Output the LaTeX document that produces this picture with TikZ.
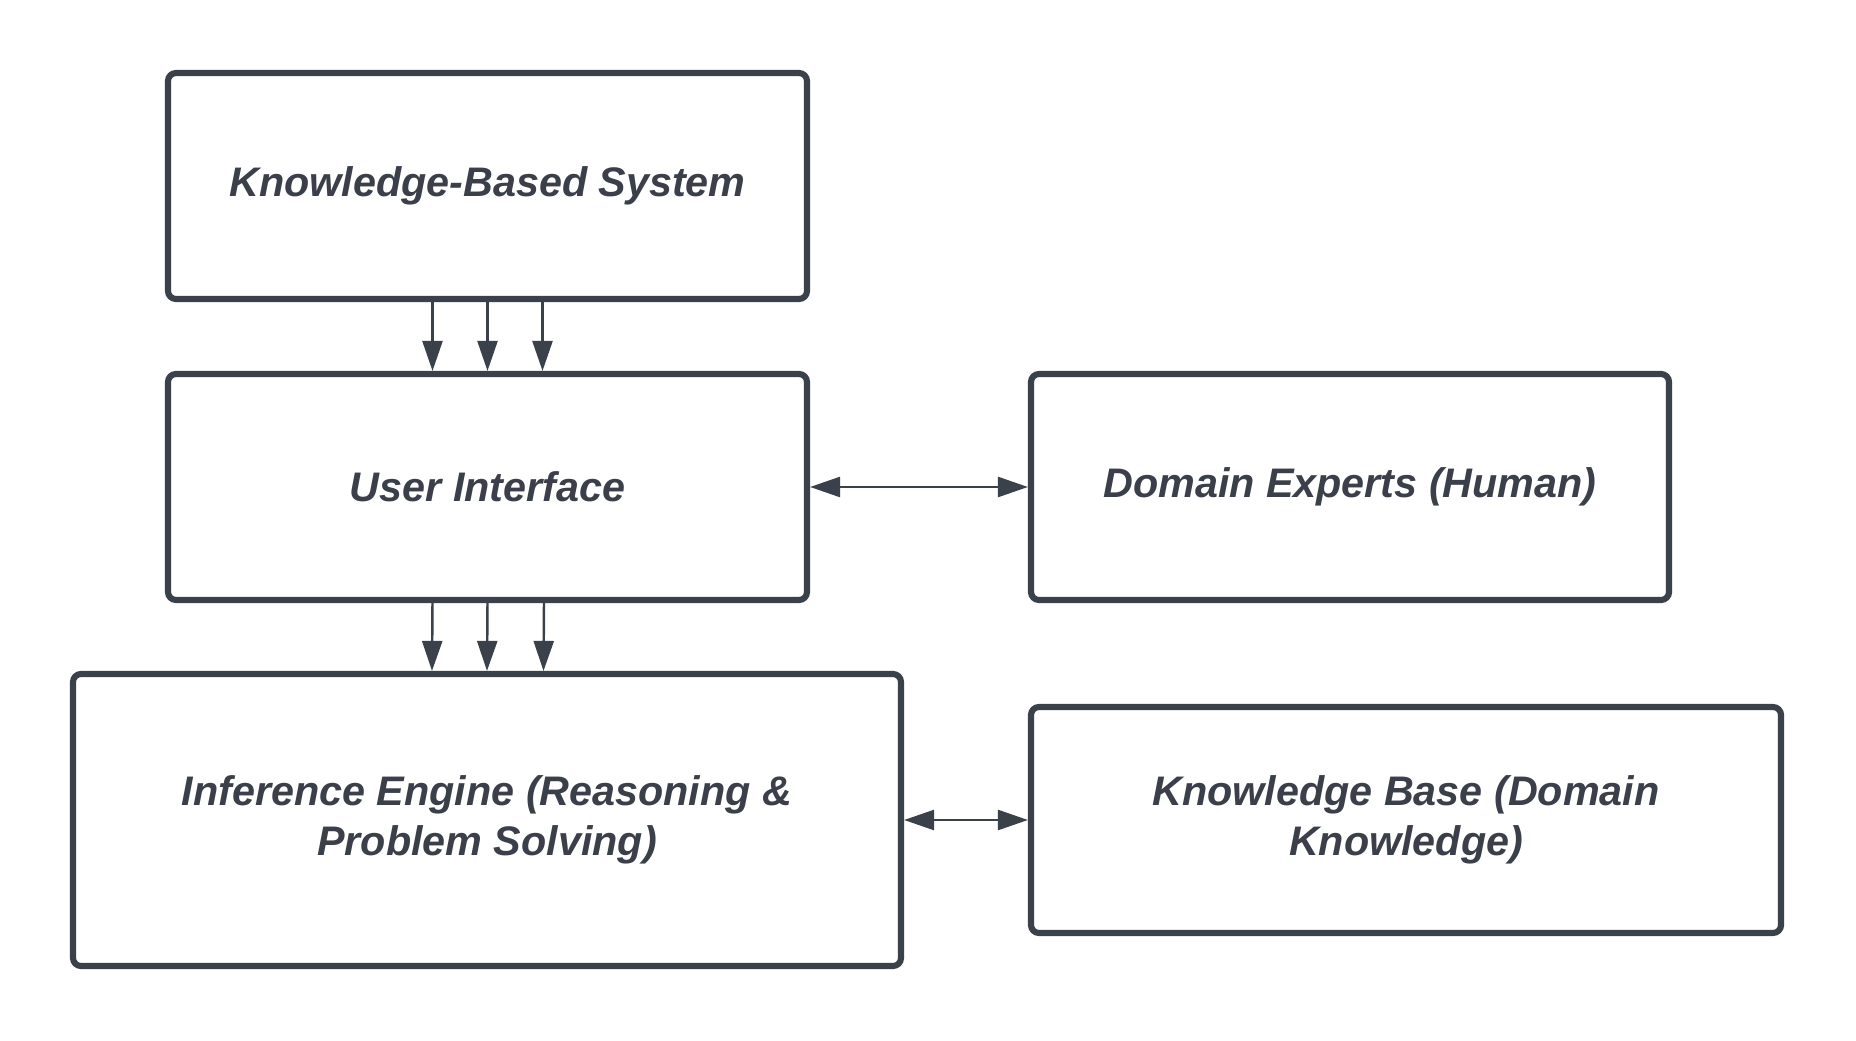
\documentclass[tikz,border=0pt]{standalone}
\usepackage{fontspec}
\setmainfont{Liberation Sans}
\usetikzlibrary{arrows.meta}
\definecolor{boxline}{HTML}{3A414A}
\definecolor{boxtext}{HTML}{3A3F4A}
\begin{document}
\begin{tikzpicture}[
  box/.style={draw=boxline,line width=3.5pt,rounded corners=0.16cm,fill=white,
    text=boxtext,align=center,inner sep=0pt,
    font=\fontsize{23.5}{28.5}\selectfont\bfseries\itshape},
  link/.style={draw=boxline,line width=1.4pt,-{Triangle[length=0.6cm,width=0.4cm]}},
  twoway/.style={draw=boxline,line width=1.4pt,
    {Triangle[length=0.6cm,width=0.4cm]}-{Triangle[length=0.6cm,width=0.4cm]}}]
\useasboundingbox (0,0) rectangle (37.12,-20.82);
\node[box,minimum width=12.78cm,minimum height=4.52cm] (kbs) at (9.75,-3.72) {Knowledge-Based System};
\node[box,minimum width=12.78cm,minimum height=4.52cm] (ui) at (9.75,-9.74) {User Interface};
\node[box,minimum width=12.76cm,minimum height=4.52cm] (de) at (27.0,-9.74) {Domain Experts (Human)};
\node[box,minimum width=16.56cm,minimum height=5.84cm] (ie) at (9.74,-16.4) {Inference Engine (Reasoning \&\\Problem Solving)};
\node[box,minimum width=15.0cm,minimum height=4.52cm] (kb) at (28.12,-16.4) {Knowledge Base (Domain\\Knowledge)};
\foreach \dx in {-1.1,0,1.1}
  \draw[link] ([xshift=\dx cm]kbs.south) -- ([xshift=\dx cm]ui.north);
\foreach \dx in {-1.1,0,1.13}
  \draw[link] ([xshift=\dx cm]ui.south) -- ([xshift=\dx cm]ie.north);
\draw[twoway] (ui.east) -- (de.west);
\draw[twoway] (ie.east) -- (kb.west);
\end{tikzpicture}
\end{document}
